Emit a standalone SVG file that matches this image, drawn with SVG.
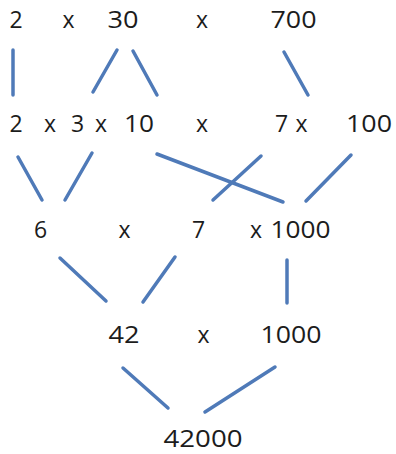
<svg xmlns="http://www.w3.org/2000/svg" width="396" height="454" viewBox="0 0 396 454">
<style>
text{font-family:"Open Sans","Liberation Sans",sans-serif;font-size:23px;fill:#1c1c1c}
.c line{stroke:#4f7ab8;stroke-width:3.5;stroke-linecap:round}
</style>
<rect width="396" height="454" fill="#fff"/>
<g id="connectors" class="c">
<line x1="13" y1="50" x2="13" y2="95"/>
<line x1="117" y1="50" x2="93" y2="92"/>
<line x1="133" y1="51" x2="157" y2="95"/>
<line x1="284" y1="52" x2="308" y2="95"/>
<line x1="18" y1="157" x2="42" y2="200"/>
<line x1="92" y1="153" x2="65" y2="200"/>
<line x1="157" y1="154" x2="283" y2="202"/>
<line x1="261" y1="156" x2="213" y2="200"/>
<line x1="351" y1="155" x2="306" y2="201"/>
<line x1="60" y1="258" x2="106" y2="301"/>
<line x1="175" y1="257" x2="143" y2="302"/>
<line x1="287" y1="260" x2="287" y2="303"/>
<line x1="123" y1="368" x2="168" y2="408"/>
<line x1="275" y1="367" x2="205" y2="412"/>
</g>
<g id="n-2a"><text x="9.5" y="27.5">2</text></g>
<g id="n-30"><text x="107.5" y="27.5" textLength="31" lengthAdjust="spacingAndGlyphs">30</text></g>
<g id="n-700"><text x="270.5" y="27.5" textLength="46" lengthAdjust="spacingAndGlyphs">700</text></g>
<g id="n-2b"><text x="9.5" y="132">2</text></g>
<g id="n-3"><text x="71" y="132">3</text></g>
<g id="n-10"><text x="124" y="132" textLength="30" lengthAdjust="spacingAndGlyphs">10</text></g>
<g id="n-7a"><text x="275" y="132">7</text></g>
<g id="n-100"><text x="346" y="132" textLength="46" lengthAdjust="spacingAndGlyphs">100</text></g>
<g id="n-6"><text x="34" y="237.5">6</text></g>
<g id="n-7b"><text x="192" y="237.5">7</text></g>
<g id="n-1000a"><text x="270.5" y="237.5" textLength="60" lengthAdjust="spacingAndGlyphs">1000</text></g>
<g id="n-42"><text x="108.5" y="343" textLength="31" lengthAdjust="spacingAndGlyphs">42</text></g>
<g id="n-1000b"><text x="260.5" y="343" textLength="61" lengthAdjust="spacingAndGlyphs">1000</text></g>
<g id="n-42000"><text x="163.5" y="447" textLength="79" lengthAdjust="spacingAndGlyphs">42000</text></g>
<g id="operators">
<text x="62.5" y="27.5">x</text>
<text x="196" y="27.5">x</text>
<text x="44" y="132">x</text>
<text x="95" y="132">x</text>
<text x="196" y="132">x</text>
<text x="295.5" y="132">x</text>
<text x="118.5" y="237.5">x</text>
<text x="250" y="237.5">x</text>
<text x="197.5" y="343">x</text>
</g>
</svg>
